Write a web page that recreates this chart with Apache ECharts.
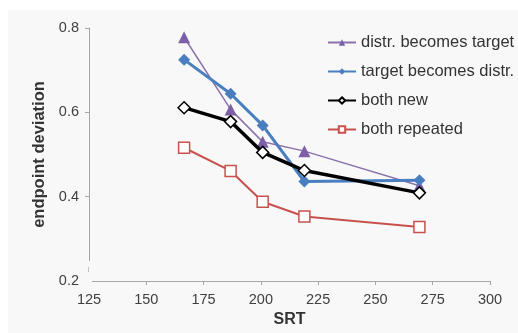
<!DOCTYPE html>
<html>
<head>
<meta charset="utf-8">
<script src="https://cdn.jsdelivr.net/npm/echarts@6/dist/echarts.min.js"></script>
<style>
html,body{margin:0;padding:0;background:#ffffff;}
#c{width:518px;height:333px;}
</style>
</head>
<body>
<div id="c"></div>
<script>
var srt = [166.5, 186.8, 200.8, 219, 269.2];
var distrBecomesTarget = [0.778, 0.607, 0.530, 0.508, 0.426];
var targetBecomesDistr = [0.725, 0.644, 0.569, 0.436, 0.439];
var bothNew = [0.611, 0.578, 0.505, 0.462, 0.409];
var bothRepeated = [0.516, 0.461, 0.388, 0.353, 0.328];
var seriesNames = ['distr. becomes target', 'target becomes distr.', 'both new', 'both repeated'];

function pairs(ys){ return srt.map(function(x,i){ return [x, ys[i]]; }); }

var FONT = 'Liberation Sans, Arial, sans-serif';
var PANEL = '#f8f8f8';
var chart = echarts.init(document.getElementById('c'), null, {renderer:'canvas'});
chart.setOption({
  backgroundColor: '#ffffff',
  animation: false,
  graphic: [
    {
      type: 'rect', z: -10, silent: true,
      shape: {x: 8, y: 10, width: 520, height: 330},
      style: {fill: PANEL}
    },
    {
      type: 'rect', z: 100, silent: true,
      shape: {x: 85, y: 261, width: 7, height: 24},
      style: {fill: PANEL}
    },
    {
      type: 'line', z: 101, silent: true,
      shape: {x1: 88.5, y1: 267, x2: 88.5, y2: 272},
      style: {stroke: '#c4c4c4', lineWidth: 1}
    }
  ],
  grid: {left: 89, right: 28, top: 28, bottom: 45, containLabel: false},
  legend: {
    orient: 'vertical', left: 322, top: 29,
    itemWidth: 28, itemHeight: 8, itemGap: 12,
    textStyle: {fontFamily: FONT, fontSize: 16.5, color: '#333333'},
    data: seriesNames
  },
  xAxis: {
    type: 'value', min: 125, max: 300, interval: 25,
    name: 'SRT', nameLocation: 'middle', nameGap: 31,
    nameTextStyle: {fontFamily: FONT, fontSize: 16, fontWeight: 'bold', color: '#333333'},
    axisLine: {lineStyle: {color: '#a6a6a6', width: 1}},
    axisTick: {show: true, length: 4, lineStyle: {color: '#a6a6a6'}},
    axisLabel: {fontFamily: FONT, fontSize: 14.5, color: '#404040', margin: 11},
    splitLine: {show: false}
  },
  yAxis: {
    type: 'value', min: 0.2, max: 0.8, interval: 0.2,
    name: 'endpoint deviation', nameLocation: 'middle', nameGap: 37,
    nameTextStyle: {fontFamily: FONT, fontSize: 16.5, fontWeight: 'bold', color: '#333333'},
    axisLine: {show: true, lineStyle: {color: '#a6a6a6', width: 1}},
    axisTick: {show: true, length: 4, lineStyle: {color: '#a6a6a6'}},
    axisLabel: {fontFamily: FONT, fontSize: 14.5, color: '#404040', margin: 10,
      formatter: function(v){ return v.toFixed(1); }},
    splitLine: {show: false}
  },
  series: [
    {
      name: seriesNames[0], type: 'line', data: pairs(distrBecomesTarget),
      symbol: 'triangle', symbolSize: 12, z: 2,
      lineStyle: {color: '#8a72ad', width: 1.5},
      itemStyle: {color: '#7d5fa8'}
    },
    {
      name: seriesNames[1], type: 'line', data: pairs(targetBecomesDistr),
      symbol: 'diamond', symbolSize: 12, z: 3,
      lineStyle: {color: '#4a7fbf', width: 3},
      itemStyle: {color: '#4a7fbf'}
    },
    {
      name: seriesNames[2], type: 'line', data: pairs(bothNew),
      symbol: 'diamond', symbolSize: 12, z: 4,
      lineStyle: {color: '#000000', width: 3.5},
      itemStyle: {color: '#ffffff', borderColor: '#000000', borderWidth: 1.5}
    },
    {
      name: seriesNames[3], type: 'line', data: pairs(bothRepeated),
      symbol: 'rect', symbolSize: 11, z: 5,
      lineStyle: {color: '#c8514e', width: 2},
      itemStyle: {color: '#ffffff', borderColor: '#c8514e', borderWidth: 1.5}
    }
  ]
});
</script>
</body>
</html>
